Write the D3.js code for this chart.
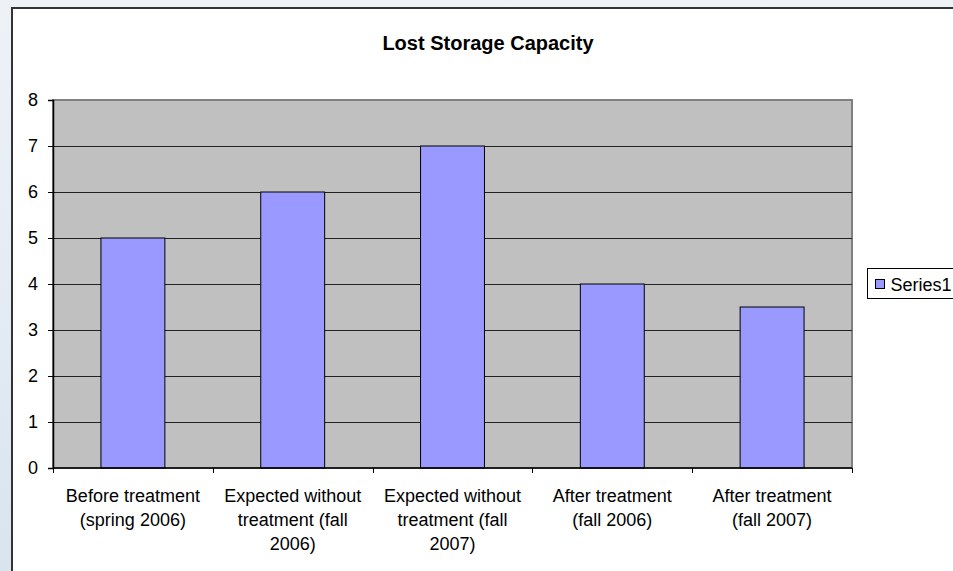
<!DOCTYPE html>
<html lang="en">
<head>
    <meta charset="UTF-8">
    <title>Lost Storage Capacity</title>
    <style>
        html, body {
            margin: 0;
            padding: 0;
            background-color: #e6edf5;
            font-family: 'Liberation Sans', Arial, sans-serif;
            overflow: hidden;
        }
        svg text {
            font-family: 'Liberation Sans', Arial, sans-serif;
            fill: #000;
        }
    </style>
</head>
<body>
    <div id="chart"></div>
    <script src="https://d3js.org/d3.v7.min.js"></script>
    <script>
        const categories = [
            ["Before treatment", "(spring 2006)"],
            ["Expected without", "treatment (fall", "2006)"],
            ["Expected without", "treatment (fall", "2007)"],
            ["After treatment", "(fall 2006)"],
            ["After treatment", "(fall 2007)"]
        ];
        const values = [5, 6, 7, 4, 3.5];
        const yTicks = [0, 1, 2, 3, 4, 5, 6, 7, 8];
        const seriesName = "Series1";

        const W = 953, H = 571;
        const plot = {left: 53, top: 100, right: 852, bottom: 468};
        const fontSize = "18px";

        const svg = d3.select("#chart")
            .append("svg")
            .attr("width", W)
            .attr("height", H);

        // soft background behind the chart
        const defs = svg.append("defs");
        const grad = defs.append("linearGradient")
            .attr("id", "bg")
            .attr("x1", 0).attr("y1", 0).attr("x2", 0).attr("y2", 1);
        grad.append("stop").attr("offset", "0%").attr("stop-color", "#eef2f7");
        grad.append("stop").attr("offset", "60%").attr("stop-color", "#e2eaf3");
        grad.append("stop").attr("offset", "100%").attr("stop-color", "#d9e4ef");
        svg.append("rect").attr("width", W).attr("height", H).attr("fill", "url(#bg)");

        // chart area (runs past the right and bottom edge)
        svg.append("rect")
            .attr("x", 12).attr("y", 8)
            .attr("width", W).attr("height", H)
            .attr("fill", "#ffffff")
            .attr("stroke", "#333333")
            .attr("stroke-width", 2);

        svg.append("text")
            .attr("x", 488)
            .attr("y", 50)
            .attr("text-anchor", "middle")
            .style("font-size", "20px")
            .style("font-weight", "bold")
            .text("Lost Storage Capacity");

        const x = d3.scaleBand()
            .domain(d3.range(categories.length))
            .range([plot.left, plot.right])
            .paddingInner(0.6)
            .paddingOuter(0.3);

        const y = d3.scaleLinear()
            .domain([0, 8])
            .range([plot.bottom, plot.top]);

        // plot area
        svg.append("rect")
            .attr("x", plot.left).attr("y", plot.top)
            .attr("width", plot.right - plot.left)
            .attr("height", plot.bottom - plot.top)
            .attr("fill", "#c0c0c0")
            .attr("stroke", "#808080")
            .attr("stroke-width", 2);

        // gridlines
        svg.append("g")
            .selectAll("line")
            .data(yTicks.slice(1, -1))
            .enter()
            .append("line")
            .attr("x1", plot.left).attr("x2", plot.right)
            .attr("y1", d => Math.round(y(d)) + 0.5)
            .attr("y2", d => Math.round(y(d)) + 0.5)
            .attr("stroke", "#222")
            .attr("stroke-width", 1);

        // bars
        svg.append("g")
            .selectAll("rect")
            .data(values)
            .enter()
            .append("rect")
            .attr("x", (d, i) => x(i))
            .attr("y", d => y(d))
            .attr("width", x.bandwidth())
            .attr("height", d => y(0) - y(d))
            .attr("fill", "#9999ff")
            .attr("stroke", "#000")
            .attr("stroke-width", 1);

        // y axis
        const yAxis = d3.axisLeft(y)
            .tickValues(yTicks)
            .tickSize(5)
            .tickPadding(10);
        const yg = svg.append("g")
            .attr("transform", `translate(${plot.left},0)`)
            .call(yAxis);
        yg.select(".domain").attr("stroke", "#000").attr("stroke-width", 1.5);
        yg.selectAll("text").style("font-size", fontSize);

        // x axis with ticks at category boundaries
        const boundaries = d3.range(categories.length + 1);
        const xb = d3.scaleLinear().domain([0, categories.length]).range([plot.left, plot.right]);
        const xg = svg.append("g");
        xg.append("line")
            .attr("x1", plot.left).attr("x2", plot.right)
            .attr("y1", plot.bottom).attr("y2", plot.bottom)
            .attr("stroke", "#000").attr("stroke-width", 1.5);
        xg.selectAll("line.tick")
            .data(boundaries)
            .enter()
            .append("line")
            .attr("class", "tick")
            .attr("x1", d => Math.round(xb(d)) + 0.5)
            .attr("x2", d => Math.round(xb(d)) + 0.5)
            .attr("y1", plot.bottom)
            .attr("y2", plot.bottom + 5)
            .attr("stroke", "#000");

        const labels = xg.selectAll("text.cat")
            .data(categories)
            .enter()
            .append("text")
            .attr("class", "cat")
            .attr("text-anchor", "middle")
            .attr("x", (d, i) => x(i) + x.bandwidth() / 2)
            .attr("y", 502)
            .style("font-size", fontSize);
        labels.selectAll("tspan")
            .data(d => d)
            .enter()
            .append("tspan")
            .attr("x", function () { return d3.select(this.parentNode).attr("x"); })
            .attr("dy", (d, i) => i === 0 ? 0 : 24)
            .text(d => d);

        // legend
        const legend = svg.append("g").attr("transform", "translate(867.5,268.5)");
        legend.append("rect")
            .attr("width", 100).attr("height", 30)
            .attr("fill", "#fff")
            .attr("stroke", "#000")
            .attr("stroke-width", 1);
        legend.append("rect")
            .attr("x", 8).attr("y", 11)
            .attr("width", 9).attr("height", 9)
            .attr("fill", "#9999ff")
            .attr("stroke", "#000");
        legend.append("text")
            .attr("x", 23).attr("y", 22)
            .style("font-size", fontSize)
            .text(seriesName);
    </script>
</body>
</html>
